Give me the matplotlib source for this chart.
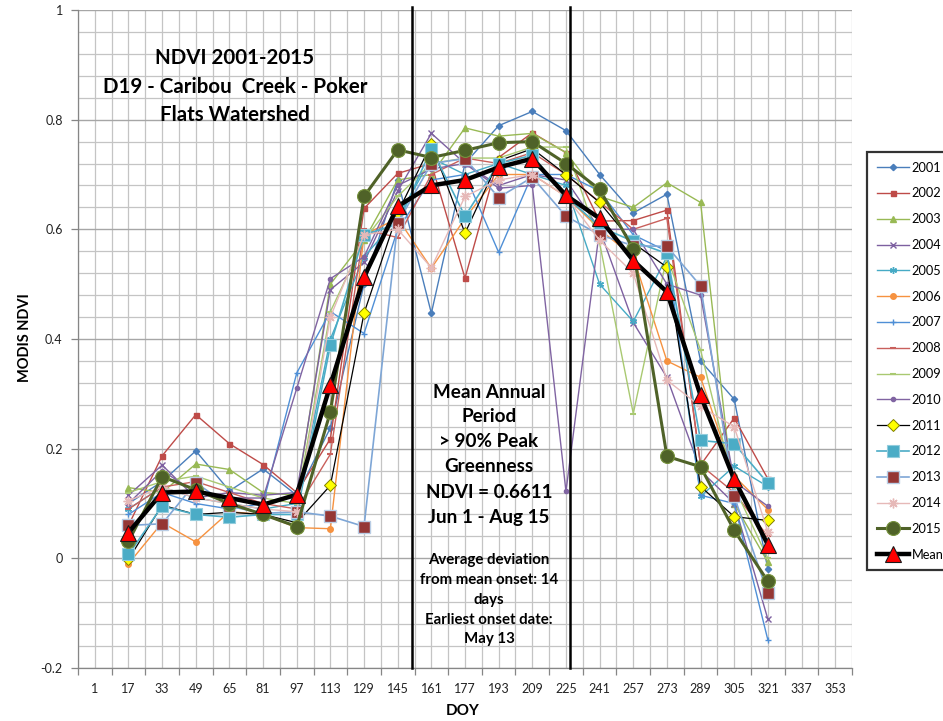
import matplotlib
matplotlib.use("Agg")
import matplotlib.pyplot as plt
import numpy as np

plt.rcParams['font.family'] = ['Lato', 'DejaVu Sans']

doy = [17, 33, 49, 65, 81, 97, 113, 129, 145, 161, 177, 193, 209, 225, 241, 257, 273, 289, 305, 321]
tick_doy = list(range(1, 354, 16))

ndvi_2001 = [0.10, 0.14, 0.196, 0.123, 0.163, 0.115, 0.238, 0.50, 0.69, 0.447, 0.72, 0.789, 0.815, 0.78, 0.70, 0.63, 0.664, 0.36, 0.29, -0.02]
ndvi_2002 = [0.06, 0.187, 0.262, 0.209, 0.171, 0.12, 0.218, 0.638, 0.702, 0.72, 0.511, 0.731, 0.776, 0.74, 0.615, 0.616, 0.635, 0.17, 0.256, 0.145]
ndvi_2003 = [0.129, 0.12, 0.172, 0.162, 0.12, 0.115, 0.50, 0.58, 0.69, 0.70, 0.785, 0.77, 0.775, 0.74, 0.66, 0.64, 0.685, 0.649, 0.10, -0.007]
ndvi_2004 = [0.115, 0.17, 0.11, 0.12, 0.115, 0.12, 0.49, 0.54, 0.67, 0.775, 0.72, 0.68, 0.70, 0.69, 0.60, 0.43, 0.33, 0.16, 0.10, -0.111]
ndvi_2005 = [0.09, 0.13, 0.11, 0.10, 0.09, 0.10, 0.40, 0.55, 0.62, 0.73, 0.70, 0.72, 0.70, 0.68, 0.50, 0.432, 0.55, 0.113, 0.168, 0.131]
ndvi_2006 = [-0.01, 0.065, 0.03, 0.085, 0.08, 0.056, 0.054, 0.59, 0.62, 0.529, 0.62, 0.70, 0.70, 0.66, 0.60, 0.55, 0.36, 0.33, 0.15, 0.089]
ndvi_2007 = [0.08, 0.12, 0.10, 0.09, 0.10, 0.338, 0.45, 0.41, 0.60, 0.69, 0.70, 0.558, 0.70, 0.70, 0.67, 0.59, 0.56, 0.115, 0.10, -0.149]
ndvi_2008 = [0.09, 0.13, 0.14, 0.12, 0.10, 0.09, 0.19, 0.60, 0.585, 0.70, 0.73, 0.72, 0.74, 0.70, 0.65, 0.60, 0.62, 0.17, 0.12, 0.04]
ndvi_2009 = [0.12, 0.14, 0.15, 0.13, 0.11, 0.10, 0.45, 0.58, 0.66, 0.72, 0.73, 0.73, 0.75, 0.75, 0.575, 0.264, 0.55, 0.38, 0.13, 0.0]
ndvi_2010 = [0.10, 0.16, 0.12, 0.11, 0.11, 0.31, 0.51, 0.55, 0.68, 0.71, 0.72, 0.675, 0.68, 0.122, 0.60, 0.60, 0.50, 0.48, 0.14, 0.095]
ndvi_2011 = [-0.002, 0.097, 0.08, 0.084, 0.08, 0.065, 0.133, 0.447, 0.63, 0.756, 0.593, 0.725, 0.747, 0.70, 0.649, 0.575, 0.531, 0.131, 0.076, 0.069]
ndvi_2012 = [0.007, 0.095, 0.08, 0.075, 0.08, 0.08, 0.389, 0.59, 0.61, 0.747, 0.624, 0.72, 0.735, 0.66, 0.605, 0.578, 0.556, 0.215, 0.209, 0.137]
ndvi_2013 = [0.06, 0.063, 0.138, 0.095, 0.082, 0.085, 0.077, 0.058, 0.611, 0.72, 0.729, 0.658, 0.695, 0.624, 0.59, 0.57, 0.569, 0.497, 0.113, -0.064]
ndvi_2014 = [0.105, 0.13, 0.11, 0.10, 0.09, 0.085, 0.44, 0.59, 0.60, 0.53, 0.66, 0.69, 0.70, 0.66, 0.58, 0.52, 0.325, 0.277, 0.24, 0.048]
ndvi_2015 = [0.031, 0.149, 0.125, 0.10, 0.08, 0.058, 0.267, 0.66, 0.745, 0.731, 0.744, 0.758, 0.76, 0.72, 0.673, 0.564, 0.186, 0.167, 0.051, -0.042]
ndvi_mean = [0.047, 0.12, 0.122, 0.11, 0.098, 0.116, 0.316, 0.513, 0.642, 0.68, 0.69, 0.713, 0.729, 0.662, 0.62, 0.543, 0.486, 0.297, 0.144, 0.025]

years = ['2001', '2002', '2003', '2004', '2005', '2006', '2007', '2008', '2009', '2010',
         '2011', '2012', '2013', '2014', '2015']
series = [ndvi_2001, ndvi_2002, ndvi_2003, ndvi_2004, ndvi_2005, ndvi_2006, ndvi_2007, ndvi_2008,
          ndvi_2009, ndvi_2010, ndvi_2011, ndvi_2012, ndvi_2013, ndvi_2014, ndvi_2015]

onset_doy = 152
end_doy = 227

styles = [
    dict(color='#4A7EBB', marker='D', ms=3.2, mfc='#4A7EBB', mec='#4A7EBB', lw=1.0),
    dict(color='#BE4B48', marker='s', ms=3.6, mfc='#BE4B48', mec='#BE4B48', lw=1.0),
    dict(color='#98B954', marker='^', ms=4.0, mfc='#98B954', mec='#98B954', lw=1.0),
    dict(color='#7D60A0', marker='x', ms=4.0, mfc='#7D60A0', mec='#7D60A0', lw=1.0, mew=1.0),
    dict(color='#46AAC5', marker=(6, 2, 0), ms=5.0, mfc='#46AAC5', mec='#46AAC5', lw=1.0, mew=1.0),
    dict(color='#F69240', marker='o', ms=4.0, mfc='#F69240', mec='#F69240', lw=1.0),
    dict(color='#4F8FD6', marker='+', ms=5.0, mfc='#4F8FD6', mec='#4F8FD6', lw=1.0, mew=1.0),
    dict(color='#C9605C', marker='_', ms=4.0, mfc='#C9605C', mec='#C9605C', lw=1.0, mew=1.5),
    dict(color='#A9C971', marker='_', ms=4.0, mfc='#A9C971', mec='#A9C971', lw=1.0, mew=1.5),
    dict(color='#8064A2', marker='o', ms=3.0, mfc='#8064A2', mec='#8064A2', lw=1.0),
    dict(color='#000000', marker='D', ms=6.5, mfc='#FFFF00', mec='#7F7F00', lw=0.9, mew=0.7),
    dict(color='#4BACC6', marker='s', ms=8.0, mfc='#4BACC6', mec='#93CDDD', lw=1.2, mew=0.8),
    dict(color='#7EA6D6', marker='s', ms=8.5, mfc='#953735', mec='#B9CDE5', lw=1.2, mew=1.0),
    dict(color='#E6B9B8', marker=(8, 2, 0), ms=7.0, mfc='#E6B9B8', mec='#E6B9B8', lw=1.0, mew=1.0),
    dict(color='#4F6228', marker='o', ms=10.0, mfc='#4F6228', mec='#76923C', lw=2.2, mew=0.8),
]

W, H = 943, 721
fig = plt.figure(figsize=(W / 100, H / 100), dpi=100)
ax = fig.add_axes([78 / W, 1 - 668 / H, (852 - 78) / W, (668 - 10) / H])

x0, x1 = -7, 361
ax.set_xlim(x0, x1)
ax.set_ylim(-0.2, 1.0)

# grid
for xv in np.arange(x0, x1 + 1, 8):
    ax.axvline(xv, color='#C4C4C4', lw=0.9, zorder=0)
for yv in np.arange(-0.2, 1.0001, 0.04):
    major = abs((yv + 0.2) / 0.2 - round((yv + 0.2) / 0.2)) < 1e-6
    ax.axhline(yv, color='#A6A6A6' if major else '#C4C4C4', lw=1.0 if major else 0.9, zorder=0)

handles = []
for name, vals, st in zip(years, series, styles):
    h, = ax.plot(doy, vals, label=name, zorder=3, **st)
    handles.append(h)
hm, = ax.plot(doy, ndvi_mean, color='black', lw=3.2, marker='^', ms=12, mfc='#FF0000',
              mec='#1a1a1a', mew=0.8, label='Mean', zorder=5)
handles.append(hm)

# onset / end vertical lines
for d in (onset_doy, end_doy):
    ax.plot([d, d], [-0.2, 1.006], color='black', lw=1.8, zorder=4, clip_on=False)

ax.set_xticks(tick_doy)
ax.set_xticklabels([str(t) for t in tick_doy])
ax.set_xticks(np.arange(x0, x1 + 1, 16), minor=True)
ax.tick_params(axis='x', which='major', length=0, pad=11, labelsize=9, colors='#222222')
ax.tick_params(axis='x', which='minor', length=5, width=0.9, color='#868686')
ax.set_yticks([-0.2, 0, 0.2, 0.4, 0.6, 0.8, 1.0])
ax.set_yticklabels(['-0.2', '0', '0.2', '0.4', '0.6', '0.8', '1'])
ax.tick_params(axis='y', length=5, width=0.9, color='#868686', labelsize=9, colors='#222222', pad=6)
for s in ('top', 'right'):
    ax.spines[s].set_visible(False)
for s in ('left', 'bottom'):
    ax.spines[s].set_color('#868686')
    ax.spines[s].set_linewidth(0.9)

fig.text(463 / W, 1 - 711 / H, 'DOY', ha='center', va='center', fontsize=11, fontweight='bold')
fig.text(25 / W, 1 - 338 / H, 'MODIS NDVI', ha='center', va='center', rotation=90,
         fontsize=10.5, fontweight='bold')

# title lines
for txt, yp in [('NDVI 2001-2015', 58), ('D19 - Caribou  Creek - Poker', 87), ('Flats Watershed', 115)]:
    fig.text(235 / W, 1 - yp / H, txt, ha='center', va='center', fontsize=14.8, fontweight='bold')

for txt, yp in [('Mean Annual', 392), ('Period', 417), ('> 90% Peak', 442), ('Greenness', 467),
                ('NDVI = 0.6611', 493), ('Jun 1 - Aug 15', 518)]:
    fig.text(489 / W, 1 - yp / H, txt, ha='center', va='center', fontsize=13.6, fontweight='bold')

for txt, yp in [('Average deviation', 560), ('from mean onset: 14', 580), ('days', 600),
                ('Earliest onset date:', 620), ('May 13', 639)]:
    fig.text(489 / W, 1 - yp / H, txt, ha='center', va='center', fontsize=10.8, fontweight='bold')

leg = fig.legend(handles=handles, loc='upper left', bbox_to_anchor=(867 / W, 1 - 152 / H),
                 frameon=True, fancybox=False, fontsize=9.2, handlelength=2.5, handletextpad=0.25,
                 labelspacing=1.08, borderpad=0.75, borderaxespad=0)
leg.get_frame().set_edgecolor('black')
leg.get_frame().set_linewidth(1.6)

fig.savefig('out.png', dpi=100)
